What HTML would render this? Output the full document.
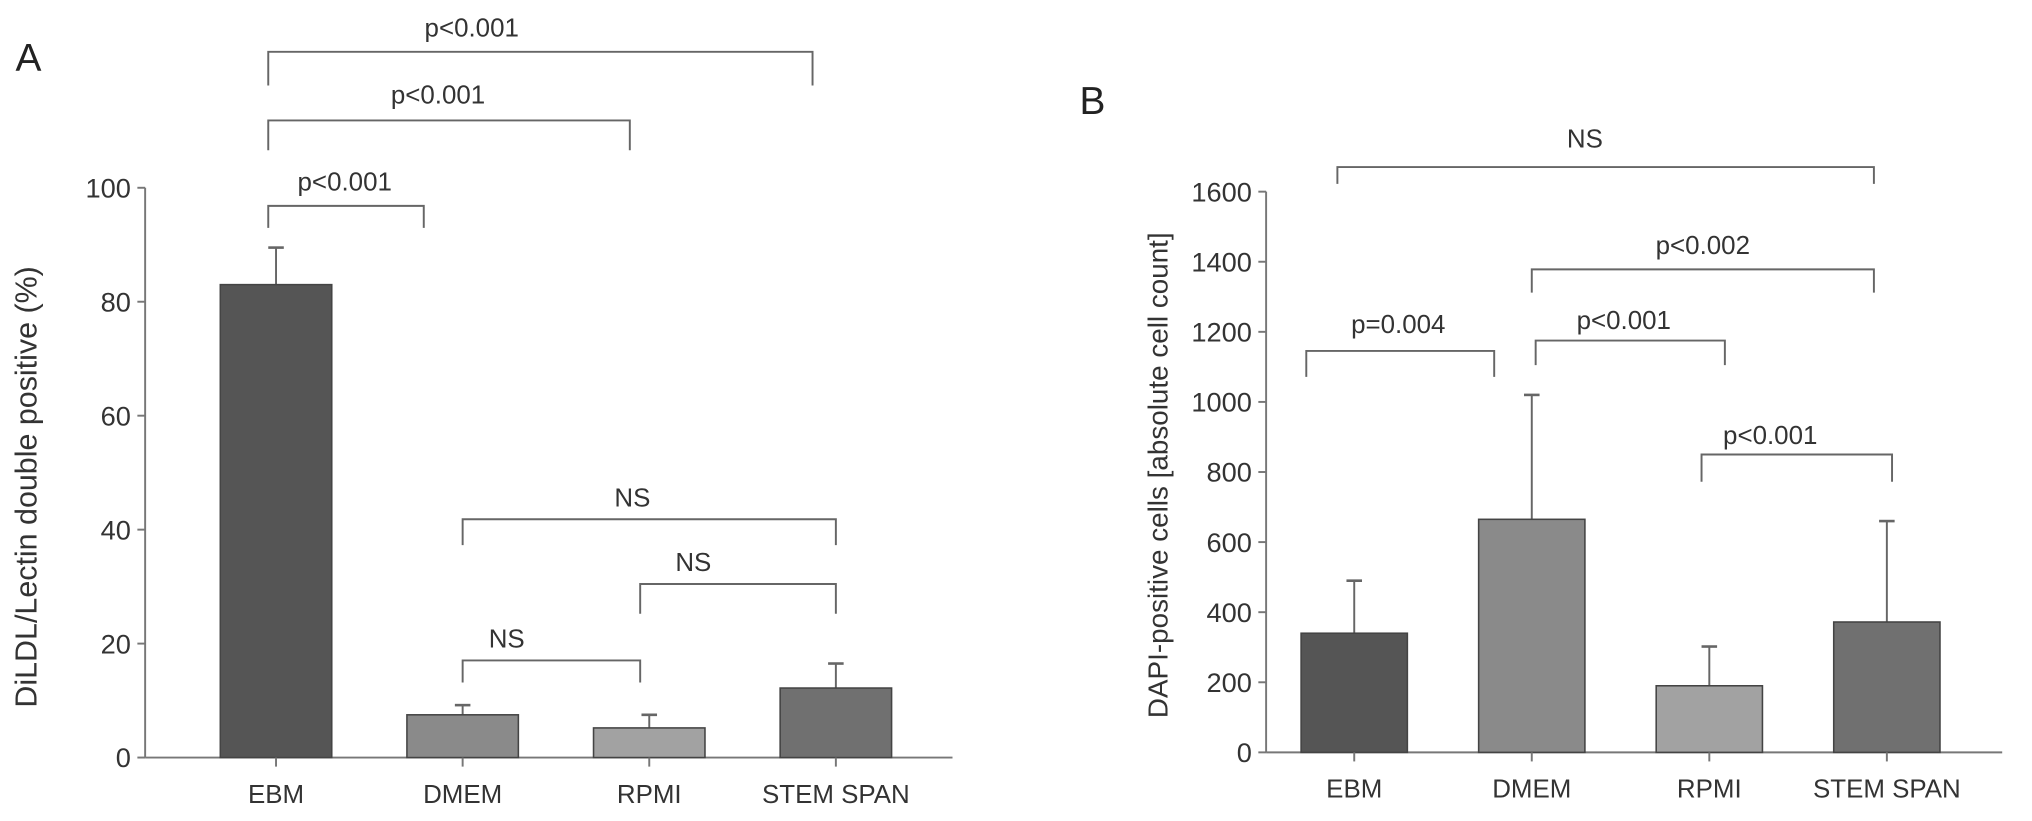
<!DOCTYPE html>
<html><head><meta charset="utf-8"><style>
html,body{margin:0;padding:0;background:#fff;}
svg{display:block;font-family:"Liberation Sans",sans-serif;}
</style></head><body>
<svg id="fig" width="2032" height="821" viewBox="0 0 1568 634" preserveAspectRatio="none" xmlns="http://www.w3.org/2000/svg">
<text x="12" y="55" font-size="30" fill="#222">A</text>
<text x="833" y="88" font-size="30" fill="#222">B</text>
<text transform="translate(28,376) rotate(-90)" text-anchor="middle" font-size="23.5" fill="#333">DiLDL/Lectin double positive (%)</text>
<text transform="translate(901,367) rotate(-90)" text-anchor="middle" font-size="21.5" fill="#333">DAPI-positive cells [absolute cell count]</text>
<g id="ga"></g><g id="gb"></g>
</svg>
<script>
const categories = ["EBM","DMEM","RPMI","STEM SPAN"];
const valuesA = [83, 7.5, 5.2, 12.2];
const errorsA = [6.5, 1.7, 2.3, 4.3];
const ticksA = [0,20,40,60,80,100];
const valuesB = [340, 665, 190, 372];
const errorsB = [150, 355, 112, 288];
const ticksB = [0,200,400,600,800,1000,1200,1400,1600];
const colorsA = ["#555555","#8a8a8a","#a2a2a2","#707070"];
const colorsB = ["#555555","#8a8a8a","#a2a2a2","#707070"];
const NS="http://www.w3.org/2000/svg";
function mk(parent,tag,attrs){const e=document.createElementNS(NS,tag);for(const k in attrs)e.setAttribute(k,attrs[k]);parent.appendChild(e);return e;}
function panel(g,cfg){
  const y=v=>cfg.y0-(v-0)/(cfg.ymax)*(cfg.y0-cfg.yTop);
  const x=i=>cfg.x0c+i*cfg.step;
  let ax=mk(g,'line',{x1:cfg.ax,y1:cfg.yTop,x2:cfg.ax,y2:cfg.y0,stroke:'#777','stroke-width':1.5});
  
  let xa=mk(g,'line',{x1:cfg.ax,y1:cfg.y0,x2:cfg.xEnd,y2:cfg.y0,stroke:'#777','stroke-width':1.5});
  
  cfg.ticks.forEach(t=>{
    let l=mk(g,'line',{x1:cfg.ax-6,y1:y(t),x2:cfg.ax,y2:y(t),stroke:'#777','stroke-width':1.5});
    
    let tx=mk(g,'text',{x:cfg.ax-11,y:y(t)+7.5,'text-anchor':'end','font-size':21,fill:'#333'});
    tx.textContent=t;
    
  });
  categories.forEach((c,i)=>{
    const cx=x(i),v=cfg.vals[i],e=cfg.errs[i];
    let el=mk(g,'line',{x1:cx,y1:y(v),x2:cx,y2:y(v+e),stroke:'#666','stroke-width':1.5});
    
    let ec=mk(g,'line',{x1:cx-6,y1:y(v+e),x2:cx+6,y2:y(v+e),stroke:'#666','stroke-width':2});
    
    let r=mk(g,'rect',{x:cx-cfg.bw/2,y:y(v),width:cfg.bw,height:y(0)-y(v),fill:cfg.colors[i],stroke:'#444','stroke-width':1.2});
    
    let tk=mk(g,'line',{x1:cx,y1:cfg.y0,x2:cx,y2:cfg.y0+7,stroke:'#777','stroke-width':1.5});
    
    let lb=mk(g,'text',{x:cx,y:cfg.y0+35,'text-anchor':'middle','font-size':20,fill:'#333'});
    lb.textContent=c;
    
  });
  cfg.brackets.forEach(b=>{
    let p=mk(g,'path',{d:`M${b[0]},${b[3]}V${b[2]}H${b[1]}V${b[3]}`,fill:'none',stroke:'#666','stroke-width':1.5});
    
    let t=mk(g,'text',{x:b[5],y:b[6],'text-anchor':'middle','font-size':20,fill:'#333'});
    t.textContent=b[4];
    
  });
}
panel(document.getElementById('ga'),{ax:112,yTop:145,y0:585,ymax:100,xEnd:735,x0c:213,step:144,bw:86,
  vals:valuesA,errs:errorsA,ticks:ticksA,colors:colorsA,
  brackets:[[207,627,40,66,"p<0.001",364,28],[207,486,93,116,"p<0.001",338,80],[207,327,159,176,"p<0.001",266,147],
  [357,645,401,421,"NS",488,391],[494,645,451,474,"NS",535,441],[357,494,510,527,"NS",391,500]]});
panel(document.getElementById('gb'),{ax:977,yTop:148,y0:581,ymax:1600,xEnd:1545,x0c:1045,step:137,bw:82,
  vals:valuesB,errs:errorsB,ticks:ticksB,colors:colorsB,
  brackets:[[1032,1446,129,142,"NS",1223,114],[1182,1446,208,226,"p<0.002",1314,196],[1008,1153,271,291,"p=0.004",1079,257],
  [1185,1331,263,282,"p<0.001",1253,254],[1313,1460,351,372,"p<0.001",1366,343]]});
</script>
</body></html>
